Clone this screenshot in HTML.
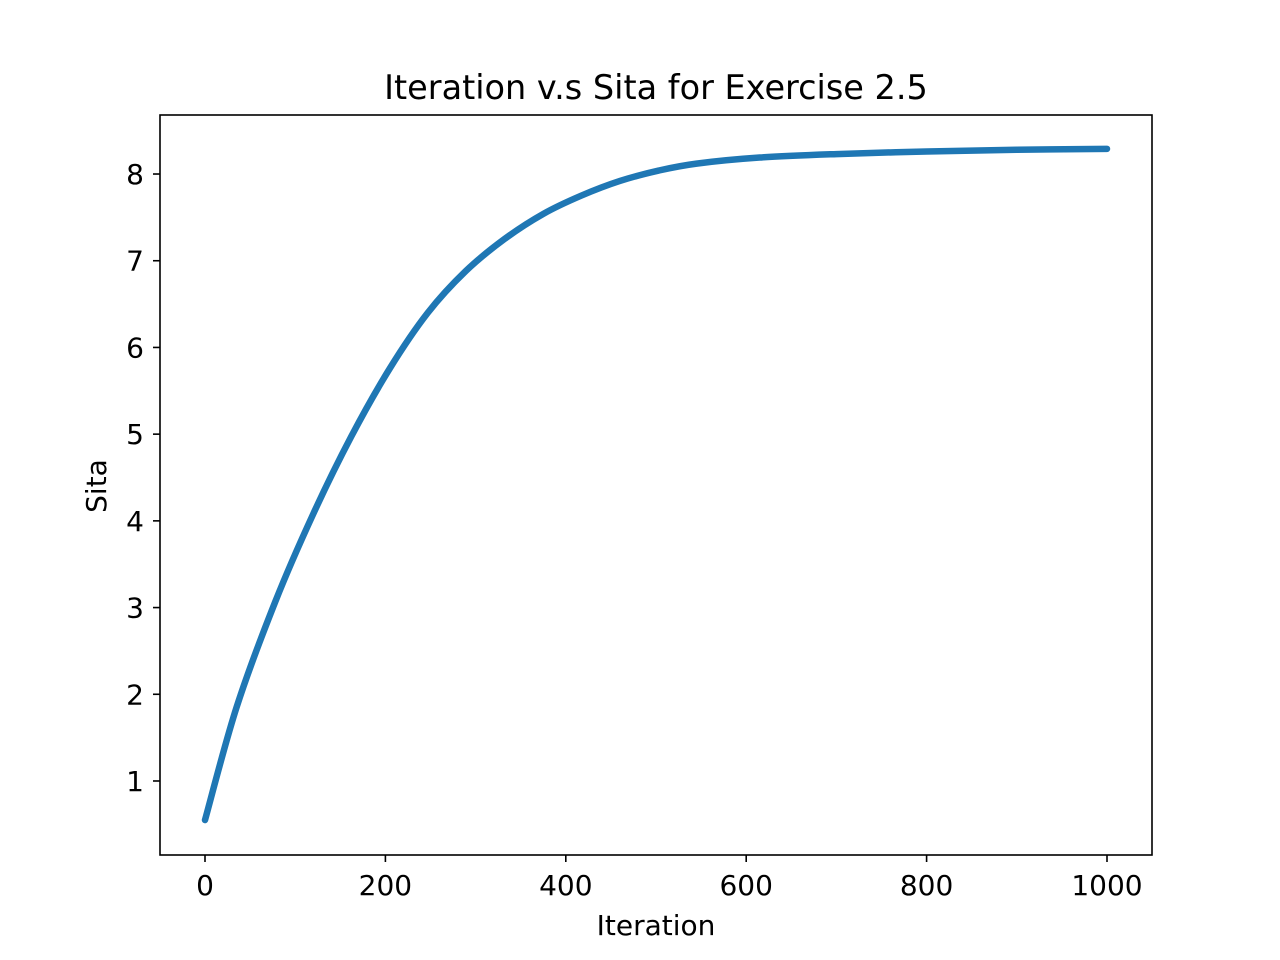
<!DOCTYPE html>
<html><head><meta charset="utf-8"><style>
html,body{margin:0;padding:0;background:#fff;}
svg{display:block;font-family:"DejaVu Sans","Liberation Sans",sans-serif;}
</style></head><body>
<svg id="chart" width="1280" height="960" viewBox="0 0 1280 960">
<rect x="0" y="0" width="1280" height="960" fill="#fff"/>
<text x="656" y="99" font-size="33.5" text-anchor="middle">Iteration v.s Sita for Exercise 2.5</text>
<g id="ticks"></g>
<path id="line" fill="none" stroke="#1f77b4" stroke-width="6.5" stroke-linejoin="round" stroke-linecap="round"/>
<rect x="160" y="115" width="992" height="740" fill="none" stroke="#000" stroke-width="1.6"/>
<text x="656" y="935" font-size="28" text-anchor="middle">Iteration</text>
<text x="106" y="486" font-size="28" text-anchor="middle" transform="rotate(-90 106 486)">Sita</text>
</svg>
<script>
const iterations=[0,35,78,120,162,205,247,289,332,375,417,460,503,545,615,700,800,900,1000];
const sita=[0.55,1.85,3.07,4.08,4.97,5.76,6.40,6.88,7.25,7.54,7.75,7.92,8.04,8.12,8.19,8.23,8.26,8.28,8.29];
const xTicks=[0,200,400,600,800,1000];
const yTicks=[1,2,3,4,5,6,7,8];
function xs(v){return 205+v*0.902;}
function ys(v){return 867.7-v*86.71;}
const ns="http://www.w3.org/2000/svg";
const g=document.getElementById('ticks');
xTicks.forEach(t=>{
 const l=document.createElementNS(ns,'line');
 l.setAttribute('x1',xs(t));l.setAttribute('x2',xs(t));l.setAttribute('y1',855);l.setAttribute('y2',862);
 l.setAttribute('stroke','#000');l.setAttribute('stroke-width','1.6');
 
 
 g.appendChild(l);
 const tx=document.createElementNS(ns,'text');
 tx.setAttribute('x',xs(t));tx.setAttribute('y',895);tx.setAttribute('font-size','28');tx.setAttribute('text-anchor','middle');
 tx.textContent=t;
 
 
 g.appendChild(tx);
});
yTicks.forEach(t=>{
 const l=document.createElementNS(ns,'line');
 l.setAttribute('x1',153);l.setAttribute('x2',160);l.setAttribute('y1',ys(t));l.setAttribute('y2',ys(t));
 l.setAttribute('stroke','#000');l.setAttribute('stroke-width','1.6');
 
 
 g.appendChild(l);
 const tx=document.createElementNS(ns,'text');
 tx.setAttribute('x',144);tx.setAttribute('y',ys(t)+10);tx.setAttribute('font-size','28');tx.setAttribute('text-anchor','end');
 tx.textContent=t;
 
 
 g.appendChild(tx);
});
const P=iterations.map((v,i)=>[xs(v),ys(sita[i])]);
let d='M'+P[0][0]+','+P[0][1];
for(let i=0;i<P.length-1;i++){
 const p0=P[Math.max(i-1,0)],p1=P[i],p2=P[i+1],p3=P[Math.min(i+2,P.length-1)];
 const c1=[p1[0]+(p2[0]-p0[0])/6,p1[1]+(p2[1]-p0[1])/6];
 const c2=[p2[0]-(p3[0]-p1[0])/6,p2[1]-(p3[1]-p1[1])/6];
 d+=' C'+c1[0]+','+c1[1]+' '+c2[0]+','+c2[1]+' '+p2[0]+','+p2[1];
}
document.getElementById('line').setAttribute('d',d);
</script>
</body></html>
